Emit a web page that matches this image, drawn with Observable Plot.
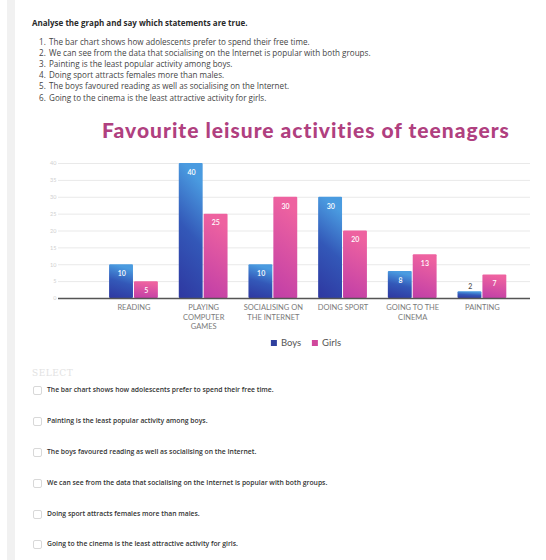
<!DOCTYPE html>
<html>
<head>
<meta charset="utf-8">
<script src="https://cdn.jsdelivr.net/npm/d3@7"></script>
<script src="https://cdn.jsdelivr.net/npm/@observablehq/plot@0.6"></script>
<style>
  html, body { margin: 0; padding: 0; background: #fff; }
  body { width: 546px; height: 560px; position: relative; overflow: hidden; font-family: "Open Sans", sans-serif; }
  .strip { position: absolute; left: 7px; top: 0; width: 8px; height: 560px; background: #f1f1f1; }
  .abs { position: absolute; white-space: nowrap; }
  .heading { left: 32px; top: 17px; font-size: 8px; line-height: 12px; font-weight: 700; color: #2a2a2a; }
  .item { font-size: 8.1px; line-height: 10px; color: #444; }
  .title { left: 306px; top: 118px; transform: translateX(-50%); font-family: "Lato", sans-serif; font-weight: 900; font-size: 21px; line-height: 24px; color: #b0407f; letter-spacing: 1px; }
  .legend { left: 306px; top: 337px; transform: translateX(-50%); font-family: "Lato", sans-serif; font-size: 9.5px; line-height: 12px; color: #555; display: flex; align-items: center; gap: 4px; }
  .sw { display: inline-block; width: 6px; height: 6px; }
  .select { left: 32px; top: 367px; font-family: "DejaVu Serif", serif; font-size: 9px; line-height: 12px; color: #e2e2e2; letter-spacing: 0.5px; }
  .choice { left: 47px; font-size: 6.8px; line-height: 10px; font-weight: 600; color: #333; }
  .box { position: absolute; left: 33px; width: 7px; height: 7px; border: 1px solid #d8d8d8; border-radius: 2px; }
  #chart { position: absolute; left: 0; top: 140px; }
</style>
</head>
<body>
<div class="strip"></div>
<div id="page"></div>
<div id="chart"></div>
<script>
// ---- data ----
const instruction = "Analyse the graph and say which statements are true.";
const statements = [
  "The bar chart shows how adolescents prefer to spend their free time.",
  "We can see from the data that socialising on the Internet is popular with both groups.",
  "Painting is the least popular activity among boys.",
  "Doing sport attracts females more than males.",
  "The boys favoured reading as well as socialising on the Internet.",
  "Going to the cinema is the least attractive activity for girls."
];
const chartTitle = "Favourite leisure activities of teenagers";
const categories = ["READING", "PLAYING COMPUTER GAMES", "SOCIALISING ON THE INTERNET", "DOING SPORT", "GOING TO THE CINEMA", "PAINTING"];
const categoryLabels = ["READING", "PLAYING\nCOMPUTER\nGAMES", "SOCIALISING ON\nTHE INTERNET", "DOING SPORT", "GOING TO THE\nCINEMA", "PAINTING"];
const boys = [10, 40, 10, 30, 8, 2];
const girls = [5, 25, 30, 20, 13, 7];
const seriesNames = ["Boys", "Girls"];
const choiceHeader = "SELECT";
const choices = [
  "The bar chart shows how adolescents prefer to spend their free time.",
  "Painting is the least popular activity among boys.",
  "The boys favoured reading as well as socialising on the Internet.",
  "We can see from the data that socialising on the Internet is popular with both groups.",
  "Doing sport attracts females more than males.",
  "Going to the cinema is the least attractive activity for girls."
];

// ---- page text ----
const page = document.getElementById("page");
function add(cls, text, style) {
  const d = document.createElement("div");
  d.className = "abs " + cls;
  d.textContent = text;
  Object.assign(d.style, style || {});
  page.appendChild(d);
  return d;
}
add("heading", instruction);
const listTops = [37, 48, 59, 70, 81, 93];
statements.forEach((s, i) => {
  add("item", (i + 1) + ".", {left: "39px", top: listTops[i] + "px"});
  add("item", s, {left: "49px", top: listTops[i] + "px"});
});
add("title", chartTitle);

const leg = document.createElement("div");
leg.className = "abs legend";
leg.innerHTML = `<span class="sw" style="background:#2e3f9e"></span><span>${seriesNames[0]}</span><span style="width:3px"></span><span class="sw" style="background:#d0479c"></span><span>${seriesNames[1]}</span>`;
page.appendChild(leg);

add("select", choiceHeader);
const choiceCenters = [390, 421, 452, 483, 514, 544];
choices.forEach((s, i) => {
  add("choice", s, {top: (choiceCenters[i] - 5) + "px"});
  const b = document.createElement("div");
  b.className = "box";
  b.style.top = (choiceCenters[i] - 4.5) + "px";
  page.appendChild(b);
});

// ---- chart ----
const half = 0.35;
const rows = categories.map((c, i) => ({i, category: c, label: categoryLabels[i], boys: boys[i], girls: girls[i]}));
const labelStyle = {fontSize: 7, fontWeight: 600};

const svg = Plot.plot({
  width: 546,
  height: 195,
  marginLeft: 58,
  marginRight: 16,
  marginTop: 23,
  marginBottom: 37,
  style: {background: "transparent", fontFamily: "Lato, sans-serif"},
  x: {domain: [-1.083, 5.69], axis: null},
  y: {domain: [0, 40], axis: null},
  marks: [
    Plot.gridY({ticks: 8, stroke: "#e9e9e9", strokeOpacity: 1}),
    Plot.axisY({ticks: 8, tickSize: 0, tickPadding: 2, fontSize: 5.5, color: "#cfcfcf", label: null}),
    Plot.rectY(rows, {x1: d => d.i - half, x2: d => d.i, y: "boys", insetRight: 0.5, fill: "url(#gBoys)", rx: 1}),
    Plot.rectY(rows, {x1: d => d.i, x2: d => d.i + half, y: "girls", insetLeft: 0.5, fill: "url(#gGirls)", rx: 1}),
    Plot.ruleY([0], {stroke: "#555", strokeWidth: 1.5}),
    // value labels inside tall bars
    Plot.text(rows, {filter: d => d.boys >= 4, x: d => d.i - half / 2, y: "boys", text: d => String(d.boys), dy: 9, fill: "#fff", ...labelStyle}),
    Plot.text(rows, {filter: d => d.girls >= 4, x: d => d.i + half / 2, y: "girls", text: d => String(d.girls), dy: 9, fill: "#fff", ...labelStyle}),
    // value labels above very short bars
    Plot.text(rows, {filter: d => d.boys < 4, x: d => d.i - half / 2, y: "boys", text: d => String(d.boys), dy: -5, fill: "#555", ...labelStyle}),
    Plot.text(rows, {filter: d => d.girls < 4, x: d => d.i + half / 2, y: "girls", text: d => String(d.girls), dy: -5, fill: "#555", ...labelStyle}),
    Plot.text(rows, {x: "i", y: () => 0, text: "label", lineAnchor: "top", dy: 5, lineHeight: 1.25,
      fontSize: 7.5, fill: "#7a7a7a", letterSpacing: 0.2})
  ]
});

const defs = d3.select(svg).insert("defs", ":first-child");
const gb = defs.append("linearGradient").attr("id", "gBoys").attr("x1", 0.2).attr("y1", 0).attr("x2", 0).attr("y2", 1);
gb.append("stop").attr("offset", "0%").attr("stop-color", "#4a9be0");
gb.append("stop").attr("offset", "45%").attr("stop-color", "#3358b8");
gb.append("stop").attr("offset", "100%").attr("stop-color", "#2e37a0");
const gg = defs.append("linearGradient").attr("id", "gGirls").attr("x1", 0.2).attr("y1", 0).attr("x2", 0).attr("y2", 1);
gg.append("stop").attr("offset", "0%").attr("stop-color", "#ee62a0");
gg.append("stop").attr("offset", "100%").attr("stop-color", "#c03ea7");

document.getElementById("chart").appendChild(svg);
</script>
</body>
</html>
